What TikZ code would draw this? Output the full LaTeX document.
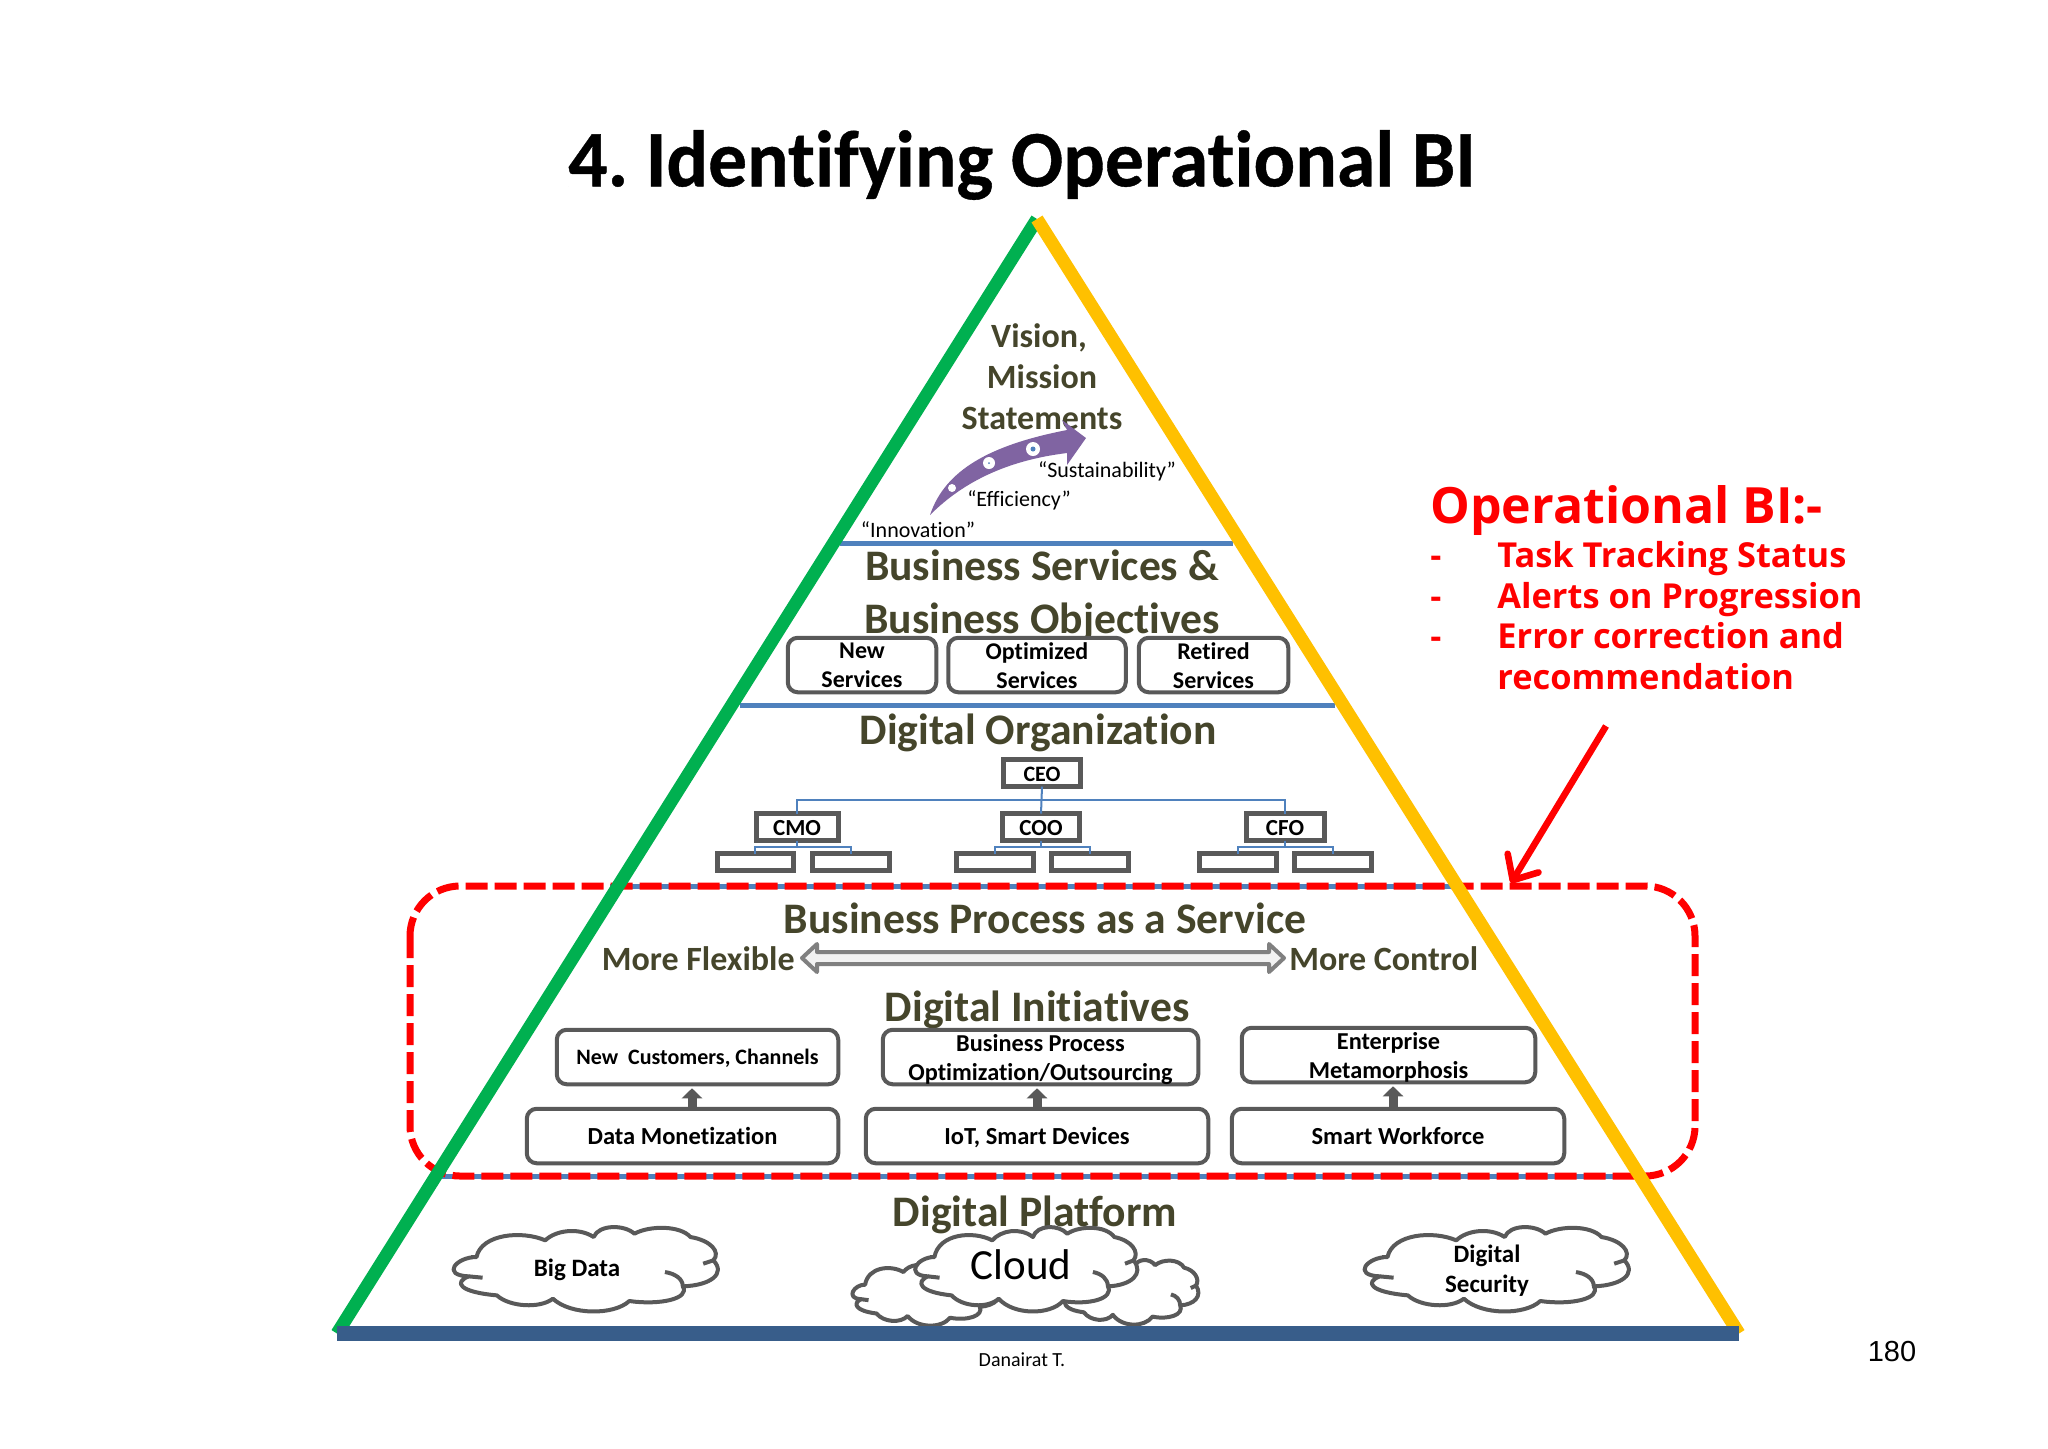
\documentclass[tikz,border=0pt]{standalone}
\usepackage{fontspec}
\setmainfont{Carlito}[Ligatures=CommonOff]
\newfontfamily\titlefont{Carlito}[Ligatures=CommonOff,BoldFeatures={FakeStretch=0.97,FakeBold=0.5}]
\newfontfamily\arialfont{Liberation Sans}
\newfontfamily\notefont{Open Sans}[Ligatures=CommonOff]
\usetikzlibrary{arrows.meta,calc}
\definecolor{olivetext}{HTML}{45452B}
\definecolor{boxgray}{HTML}{595959}
\definecolor{sepblue}{HTML}{4F81BD}
\definecolor{baseblue}{HTML}{385D8A}
\definecolor{pygreen}{HTML}{00B050}
\definecolor{pyyellow}{HTML}{FFC000}
\definecolor{arrowpurple}{HTML}{8064A2}
\newcommand{\pxl}[2]{\fontsize{\dimexpr #1pt/2\relax}{\dimexpr #2pt/2\relax}\selectfont}
\newcommand{\pxf}[2]{\fontsize{#1pt}{#2pt}\selectfont}
\newcommand{\cloudat}[4]{%
\begin{scope}[shift={(#1,#2)},xscale=#3/530,yscale=#4/255]
\draw[cloudline,fill=white] (50,90) .. controls (10,90) and (-20,145) .. (35,148)
 .. controls (5,165) and (15,195) .. (90,205)
 .. controls (115,240) and (175,245) .. (200,215)
 .. controls (235,265) and (320,265) .. (350,222)
 .. controls (410,235) and (470,215) .. (455,178)
 .. controls (510,175) and (540,140) .. (515,100)
 .. controls (530,75) and (510,40) .. (470,30)
 .. controls (450,-5) and (390,-5) .. (360,20)
 .. controls (340,-8) and (290,-8) .. (280,30)
 .. controls (250,0) and (205,10) .. (185,40)
 .. controls (140,10) and (60,20) .. (50,90) -- cycle;
\draw[cloudline] (35,148) -- (62,152);
\draw[cloudline] (455,178) .. controls (455,155) and (440,140) .. (420,135);
\draw[cloudline] (515,100) -- (495,110);
\draw[cloudline] (50,90) -- (40,90);
\end{scope}}
\tikzset{
 x=0.5pt,y=-0.5pt,
 bw/.style={minimum width={(#1-1.5)*0.5pt}},
 bh/.style={minimum height={(#1-1.5)*0.5pt}},
 sw/.style={minimum width={(#1-4)*0.5pt}},
 sh/.style={minimum height={(#1-4)*0.5pt}},
 cloudline/.style={draw=boxgray,line width=2pt,line join=round},
 rbox/.style={draw=boxgray,line width=2pt,rounded corners=5pt,fill=white,inner sep=0pt,outer sep=0pt},
 sqbox/.style={draw=boxgray,line width=2.5pt,fill=white,inner sep=0pt,outer sep=0pt},
 boxlabel/.style={inner sep=0pt,align=center,text=black},
 headtext/.style={text=olivetext,inner sep=0pt,align=center,font=\bfseries\pxf{21.8}{26.5}},
 subhead/.style={text=olivetext,inner sep=0pt,align=center,font=\bfseries\pxl{34}{41}},
 quotetext/.style={text=black,inner sep=0pt,font=\pxl{22}{28}},
 sepline/.style={draw=sepblue,line width=2.5pt},
 orgline/.style={draw=sepblue,line width=1pt},
 uparrow/.style={draw=boxgray,line width=4.5pt,shorten >=2pt,-{Triangle[width=10pt,length=5pt]}},
 redtext/.style={text=red,inner sep=0pt,anchor=base west,font=\notefont\bfseries\pxf{17.2}{20}},
}
\begin{document}
\begin{tikzpicture}
\useasboundingbox[fill=white] (0,0) rectangle (2048,1448);
\node[inner sep=0pt,font=\titlefont\bfseries\pxl{80}{84}] (title) at (1022,165) {4.\kern-3pt{} Identifying Operational BI};
% separators
\coordinate (s1a) at (840,543); \coordinate (s1b) at (1233,543);
\coordinate (s2a) at (740,705); \coordinate (s2b) at (1335,705);
\coordinate (s3a) at (610,886); \coordinate (s3b) at (1460,886);
\coordinate (s4a) at (440,1176); \coordinate (s4b) at (1640,1176);
\draw[sepline] (s1a)--(s1b); \draw[sepline] (s2a)--(s2b); \draw[sepline] (s3a)--(s3b); \draw[sepline] (s4a)--(s4b);
% top text
\node[subhead] (vision) at (1042,377) {Vision,\hspace*{3pt}\\Mission\\Statements};
% purple arrow
\fill[arrowpurple] (930,515) .. controls (945,470) and (990,445) .. (1067,430) -- (1062,420) -- (1086,438) -- (1067,465) -- (1067,453) .. controls (1010,460) and (965,480) .. cycle;
\fill[white] (952,488) circle[radius=4];
\fill[white] (989,463) circle[radius=6]; \fill[sepblue] (989,463) circle[radius=1];
\fill[white] (1033,449) circle[radius=7]; \fill[sepblue] (1033,449) circle[radius=2.5];
\node[quotetext] (sust) at (1107,471) {“Sustainability”};
\node[quotetext] (effi) at (1019,500) {“Efficiency”};
\node[quotetext] (inno) at (918,530) {“Innovation”};
\node[headtext] (bs1) at (1042,595.5) {Business Services \&\\[0pt]Business Objectives};
% services
\node[rbox,bw=150,bh=56] (news) at (862,665) {};
\node[rbox,bw=179,bh=56] (opts) at (1037,665) {};
\node[rbox,bw=151,bh=56] (rets) at (1213.5,665) {};
\node[boxlabel,font=\bfseries\pxl{24}{29}] (newst) at ($(news.center)+(0,0.5)$) {New\\Services};
\node[boxlabel,font=\bfseries\pxl{24}{29}] (optst) at ($(opts.center)+(0,0.5)$) {Optimized\\Services};
\node[boxlabel,font=\bfseries\pxl{24}{29}] (retst) at ($(rets.center)+(0,0.5)$) {Retired\\Services};
\node[headtext] (dorg) at (1038,733) {Digital Organization};
% org chart
\node[sqbox,sw=81,sh=31] (ceo) at (1042,773) {};
\node[sqbox,sw=86,sh=31] (cmo) at (797,827) {};
\node[sqbox,sw=81,sh=31] (coo) at (1041,827) {};
\node[sqbox,sw=82,sh=31] (cfo) at (1285,827) {};
\node[boxlabel,font=\bfseries\pxl{22}{26}] (ceot) at ($(ceo.center)+(0,1.5)$) {CEO};
\node[boxlabel,font=\bfseries\pxl{23}{26}] (cmot) at ($(cmo.center)+(0,1.5)$) {CMO};
\node[boxlabel,font=\bfseries\pxl{23}{26}] (coot) at ($(coo.center)+(0,1.5)$) {COO};
\node[boxlabel,font=\bfseries\pxl{23}{26}] (cfot) at ($(cfo.center)+(0,1.5)$) {CFO};
\node[sqbox,sw=80,sh=21] (c1) at (755,862) {};
\node[sqbox,sw=81,sh=21] (c2) at (851,862) {};
\node[sqbox,sw=81,sh=21] (c3) at (995,862) {};
\node[sqbox,sw=81,sh=21] (c4) at (1090,862) {};
\node[sqbox,sw=81,sh=21] (c5) at (1238,862) {};
\node[sqbox,sw=81,sh=21] (c6) at (1333,862) {};
\coordinate (orgbar) at (0,800);
\coordinate (subbar) at (0,847);
\draw[orgline] (ceo.south) -- (coo.north);
\draw[orgline] (cmo.north) -- (cmo.north|-orgbar) -- (cfo.north|-orgbar) -- (cfo.north);
\draw[orgline] (cmo.south) -- (cmo.south|-subbar);
\draw[orgline] (c1.north) -- (c1.north|-subbar) -- (c2.north|-subbar) -- (c2.north);
\draw[orgline] (coo.south) -- (coo.south|-subbar);
\draw[orgline] (c3.north) -- (c3.north|-subbar) -- (c4.north|-subbar) -- (c4.north);
\draw[orgline] (cfo.south) -- (cfo.south|-subbar);
\draw[orgline] (c5.north) -- (c5.north|-subbar) -- (c6.north|-subbar) -- (c6.north);
% process
\node[headtext] (bpas) at (1045,918) {Business Process as a Service};
\node[subhead,anchor=east] (flex) at (795,959) {More Flexible};
\node[subhead,anchor=west] (ctrl) at (1289,959) {More Control};
\coordinate (da) at ($(flex.east)+(7,-1)$);
\coordinate (db) at ($(ctrl.west)+(-5,-1)$);
\draw[draw=black!50,fill=black!5,line width=2pt,line join=round]
 (da) -- ++(15,-14) -- ++(0,8) -- ($(db)+(-15,-6)$) -- ++(0,-8) -- (db) -- ++(-15,14) -- ++(0,-8) -- ($(da)+(15,6)$) -- ++(0,8) -- cycle;
\node[headtext] (dini) at (1037,1010) {Digital Initiatives};
\node[rbox,bw=283,bh=56] (ncc) at (697.5,1057) {};
\node[rbox,bw=317,bh=56] (bpo) at (1040.5,1057) {};
\node[rbox,bw=295,bh=56] (ent) at (1388.5,1055) {};
\node[rbox,bw=313,bh=56] (dm) at (682.5,1136) {};
\node[rbox,bw=344,bh=56] (iot) at (1037,1136) {};
\node[rbox,bw=334,bh=56] (swf) at (1398,1136) {};
\node[boxlabel,anchor=base,font=\bfseries\pxl{22}{29}] (ncct) at ($(ncc.center)+(0,7)$) {New\ \ Customers, Channels};
\node[boxlabel,font=\bfseries\pxl{24.3}{29}] (bpot) at ($(bpo.center)+(0,3)$) {Business Process\\Optimization/Outsourcing};
\node[boxlabel,font=\bfseries\pxl{24.3}{29}] (entt) at ($(ent.center)+(0,2)$) {Enterprise\\Metamorphosis};
\node[boxlabel,anchor=base,font=\bfseries\pxl{24.5}{29}] (dmt) at ($(dm.center)+(0,8)$) {Data Monetization};
\node[boxlabel,anchor=base,font=\bfseries\pxl{24.5}{29}] (iott) at ($(iot.center)+(0,8)$) {IoT, Smart Devices};
\node[boxlabel,anchor=base,font=\bfseries\pxl{24.5}{29}] (swft) at ($(swf.center)+(0,8)$) {Smart Workforce};
\coordinate (ua1) at (692,0); \coordinate (ua2) at (1037,0); \coordinate (ua3) at (1393,0);
\draw[uparrow] (ua1|-dm.north) -- (ua1|-ncc.south);
\draw[uparrow] (ua2|-iot.north) -- (ua2|-bpo.south);
\draw[uparrow] (ua3|-swf.north) -- (ua3|-ent.south);
% platform
\node[headtext] (dplat) at (1035,1215) {Digital Platform};
\cloudat{851}{1262}{150}{64}
\cloudat{1060}{1260}{140}{65}
\cloudat{913}{1227}{227}{85}
\cloudat{451}{1227}{270}{85}
\cloudat{1362}{1227}{270}{85}
\node[inner sep=0pt,font=\pxl{43}{50}] (cloudt) at (1021,1265) {Cloud};
\node[inner sep=0pt,align=center,font=\bfseries\pxl{25}{30}] (bigd) at (577,1270) {Big Data};
\node[inner sep=0pt,align=center,font=\bfseries\pxl{25}{30}] (digs) at (1487,1270.5) {Digital\\Security};
% red dashed
\draw[red,line width=3.5pt,dash pattern=on 11pt off 3.5pt,rounded corners=25pt] (410,886) rectangle (1695,1176);
% pyramid
\coordinate (apex) at (1037,219); \coordinate (bl) at (337,1333.5); \coordinate (br) at (1739,1333.5);
\draw[pygreen,line width=6.5pt] (bl) -- (apex);
\draw[pyyellow,line width=6.5pt] (apex) -- (br);
\draw[baseblue,line width=7.5pt] (bl) -- (br);
% red note
\node[redtext,font=\notefont\bfseries\pxf{25}{28}] (opbi) at (1430,523) {Operational BI:-};
\node[redtext] (d1) at (1430,567) {-}; \node[redtext] (l1) at (1497,567) {Task Tracking Status};
\node[redtext] (d2) at (1430,608) {-}; \node[redtext] (l2) at (1497,608) {Alerts on Progression};
\node[redtext] (d3) at (1430,648) {-}; \node[redtext] (l3) at (1497,648) {Error correction and};
\node[redtext] (l4) at (1497,689) {recommendation};
\coordinate (ra) at (1606,726); \coordinate (rb) at (1511,883);
\draw[red,line width=3.3pt,-{Straight Barb[length=10pt,width=18pt,round]}] (ra) -- (rb);
\node[inner sep=0pt,font=\pxl{20}{22}] (auth) at (1022,1360) {Danairat T.};
\node[inner sep=0pt,font=\arialfont\pxl{29}{32}] (pg) at (1892,1351) {180};
\end{tikzpicture}
\end{document}
